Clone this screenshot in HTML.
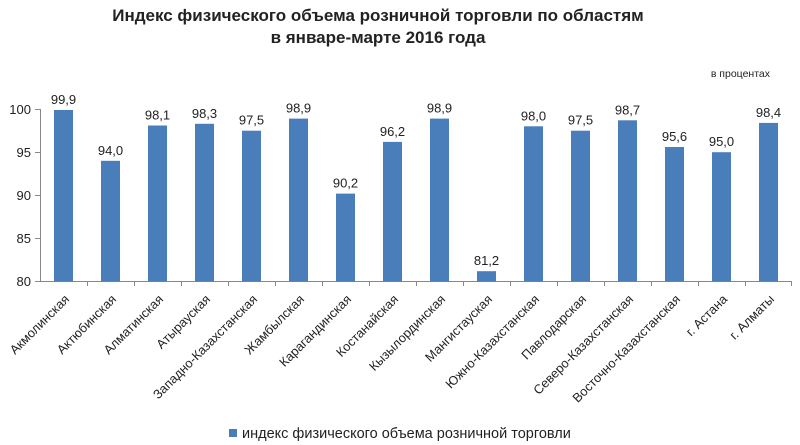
<!DOCTYPE html>
<html><head><meta charset="utf-8"><style>
body{margin:0;background:#fff;}
svg{display:block;font-family:"Liberation Sans",Arial,sans-serif;}
</style></head><body>
<svg width="800" height="445" xmlns="http://www.w3.org/2000/svg">
<text x="378" y="21" text-anchor="middle" font-size="17" font-weight="bold" fill="#222">Индекс физического объема розничной торговли по областям</text>
<text x="378" y="43" text-anchor="middle" font-size="17" font-weight="bold" fill="#222">в январе-марте 2016 года</text>
<text x="770" y="77" text-anchor="end" font-size="10.5" fill="#222">в процентах</text>
<g font-size="13" fill="#222" text-anchor="end">
<text x="31" y="114">100</text><text x="31" y="157">95</text><text x="31" y="200">90</text><text x="31" y="243">85</text><text x="31" y="286">80</text>
</g>
<g stroke="#888" stroke-width="1">
<line x1="40.5" y1="109" x2="40.5" y2="282"/>
<line x1="35" y1="109.5" x2="40" y2="109.5"/><line x1="35" y1="152.5" x2="40" y2="152.5"/><line x1="35" y1="195.5" x2="40" y2="195.5"/><line x1="35" y1="238.5" x2="40" y2="238.5"/><line x1="35" y1="281.5" x2="792" y2="281.5"/>
<line x1="87.5" y1="282" x2="87.5" y2="286"/><line x1="134.5" y1="282" x2="134.5" y2="286"/><line x1="181.5" y1="282" x2="181.5" y2="286"/><line x1="228.5" y1="282" x2="228.5" y2="286"/><line x1="275.5" y1="282" x2="275.5" y2="286"/><line x1="322.5" y1="282" x2="322.5" y2="286"/><line x1="369.5" y1="282" x2="369.5" y2="286"/><line x1="416.5" y1="282" x2="416.5" y2="286"/><line x1="463.5" y1="282" x2="463.5" y2="286"/><line x1="510.5" y1="282" x2="510.5" y2="286"/><line x1="557.5" y1="282" x2="557.5" y2="286"/><line x1="604.5" y1="282" x2="604.5" y2="286"/><line x1="651.5" y1="282" x2="651.5" y2="286"/><line x1="698.5" y1="282" x2="698.5" y2="286"/><line x1="745.5" y1="282" x2="745.5" y2="286"/><line x1="791.5" y1="282" x2="791.5" y2="286"/>
</g>
<g fill="#4a7ebb">
<rect x="54" y="110" width="19" height="171.5"/>
<rect x="101" y="160.8" width="19" height="120.7"/>
<rect x="148" y="125.5" width="19" height="156"/>
<rect x="195" y="123.8" width="19" height="157.7"/>
<rect x="242" y="130.7" width="19" height="150.8"/>
<rect x="289" y="118.6" width="19" height="162.9"/>
<rect x="336" y="193.6" width="19" height="87.9"/>
<rect x="383" y="141.9" width="19" height="139.6"/>
<rect x="430" y="118.6" width="19" height="162.9"/>
<rect x="477" y="271.2" width="19" height="10.3"/>
<rect x="524" y="126.3" width="19" height="155.2"/>
<rect x="571" y="130.7" width="19" height="150.8"/>
<rect x="618" y="120.3" width="19" height="161.2"/>
<rect x="665" y="147" width="19" height="134.5"/>
<rect x="712" y="152.2" width="19" height="129.3"/>
<rect x="759" y="122.9" width="19" height="158.6"/>
</g>
<g font-size="13" fill="#222" text-anchor="middle">
<text x="63.5" y="104">99,9</text>
<text x="110.5" y="154.8">94,0</text>
<text x="157.5" y="119.5">98,1</text>
<text x="204.5" y="117.8">98,3</text>
<text x="251.5" y="124.7">97,5</text>
<text x="298.5" y="112.6">98,9</text>
<text x="345.5" y="187.6">90,2</text>
<text x="392.5" y="135.9">96,2</text>
<text x="439.5" y="112.6">98,9</text>
<text x="486.5" y="265.2">81,2</text>
<text x="533.5" y="120.3">98,0</text>
<text x="580.5" y="124.7">97,5</text>
<text x="627.5" y="114.3">98,7</text>
<text x="674.5" y="141">95,6</text>
<text x="721.5" y="146.2">95,0</text>
<text x="768.5" y="116.9">98,4</text>
</g>
<g font-size="12.8" fill="#222" text-anchor="end">
<text transform="translate(70,300) rotate(-45)">Акмолинская</text>
<text transform="translate(117,300) rotate(-45)">Актюбинская</text>
<text transform="translate(164,300) rotate(-45)">Алматинская</text>
<text transform="translate(211,300) rotate(-45)">Атырауская</text>
<text transform="translate(258,300) rotate(-45)">Западно-Казахстанская</text>
<text transform="translate(305,300) rotate(-45)">Жамбылская</text>
<text transform="translate(352,300) rotate(-45)">Карагандинская</text>
<text transform="translate(399,300) rotate(-45)">Костанайская</text>
<text transform="translate(446,300) rotate(-45)">Кызылординская</text>
<text transform="translate(493,300) rotate(-45)">Мангистауская</text>
<text transform="translate(540,300) rotate(-45)">Южно-Казахстанская</text>
<text transform="translate(587,300) rotate(-45)">Павлодарская</text>
<text transform="translate(634,300) rotate(-45)">Северо-Казахстанская</text>
<text transform="translate(681,300) rotate(-45)">Восточно-Казахстанская</text>
<text transform="translate(728,300) rotate(-45)">г. Астана</text>
<text transform="translate(775,300) rotate(-45)">г. Алматы</text>
</g>
<rect x="229" y="429" width="8" height="8" fill="#4a7ebb"/>
<text x="242" y="438" font-size="14.5" fill="#222">индекс физического объема розничной торговли</text>
</svg>
</body></html>
